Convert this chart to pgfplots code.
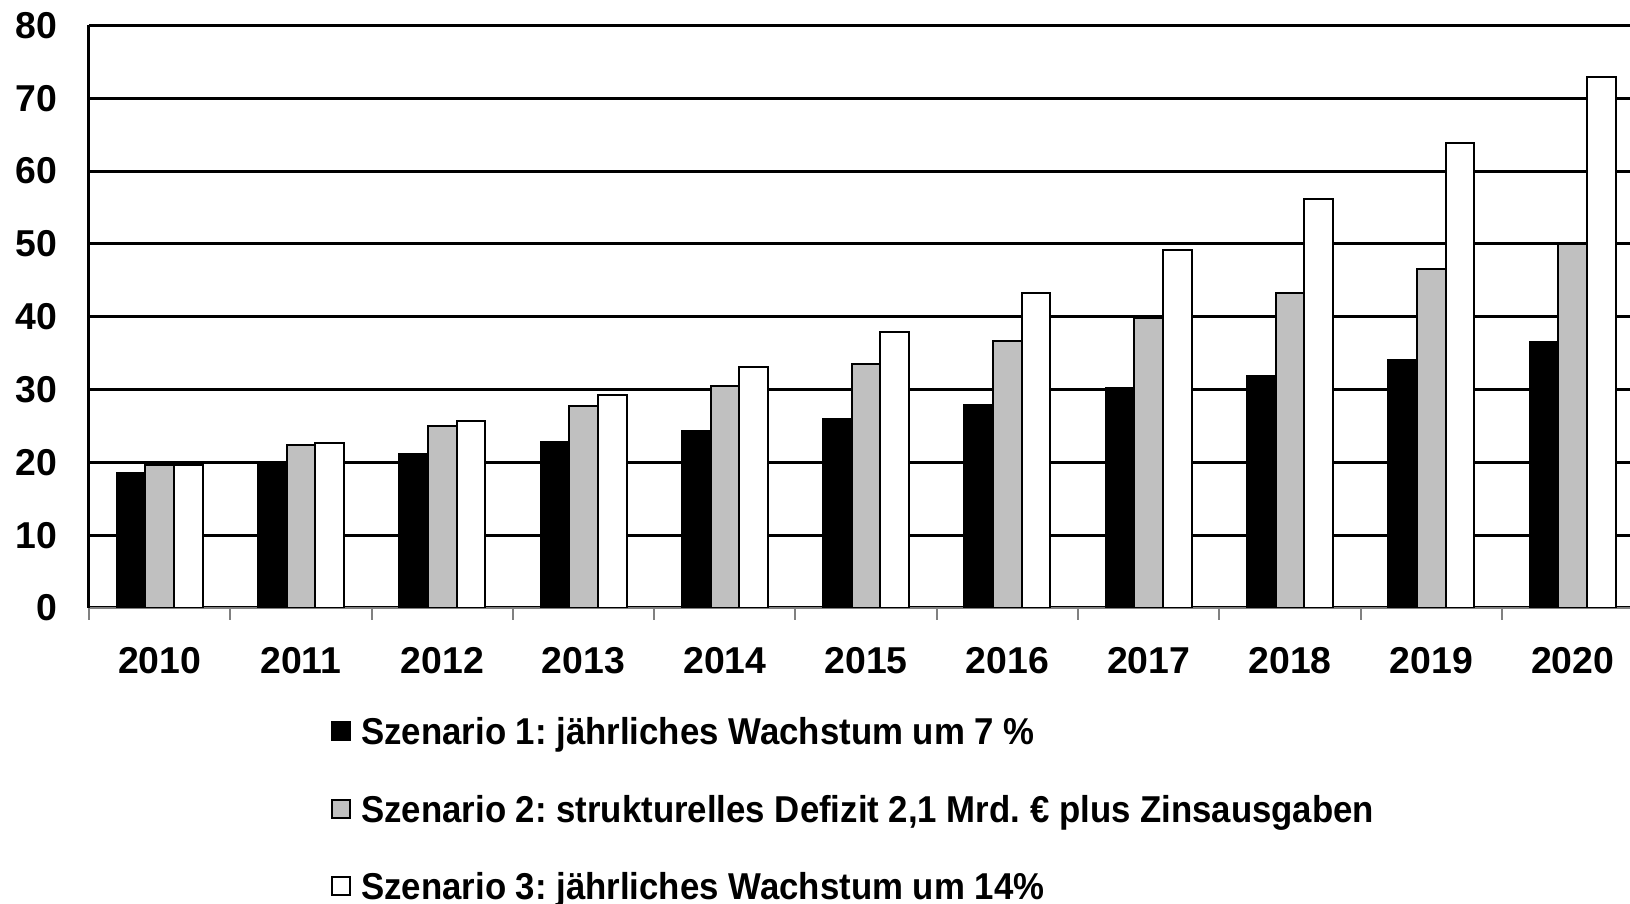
\documentclass[border=0pt]{standalone}
\usepackage{fontspec}
\setmainfont{Liberation Sans}
\newfontfamily\legfont{Liberation Sans}[FakeStretch=0.93]
\usepackage{pgfplots}
\pgfplotsset{compat=1.18}
\definecolor{barg}{RGB}{192,192,192}
\newcommand\f{\fontsize{18.7pt}{22pt}\selectfont\bfseries}
\newcommand\lf{\legfont\fontsize{18.7pt}{22pt}\selectfont\bfseries\frenchspacing}
\frenchspacing
\begin{document}
\begin{tikzpicture}
\useasboundingbox (0,0) rectangle (815pt,452pt);
\begin{axis}[
  at={(44.5pt,148pt)}, anchor=south west,
  scale only axis, width=770.5pt, height=291.25pt,
  xmin=-0.5, xmax=10.406, ymin=0, ymax=80,
  axis x line*=bottom, axis y line*=left,
  x axis line style={gray, line width=1.3pt},
  y axis line style={black, line width=1.5pt},
  ybar=0pt, bar width=0.203,
  ytick={0,10,...,80},
  xtick={0,...,10},
  xticklabels={2010,2011,2012,2013,2014,2015,2016,2017,2018,2019,2020},
  minor xtick={-0.5,0.5,1.5,2.5,3.5,4.5,5.5,6.5,7.5,8.5,9.5},
  major tick length=0pt, minor tick length=6pt, tick align=outside,
  minor x tick style={gray, line width=1pt},
  ymajorgrids, major grid style={black, line width=1.5pt},
  /pgf/number format/assume math mode=true,
  tick label style={font=\f, inner sep=0pt},
  yticklabel style={xshift=-15.5pt},
  xticklabel style={yshift=-19.5pt},
  legend cell align=left,
  legend style={at={(0.157,-0.188)}, anchor=north west, draw=none, fill=none,
    inner sep=0pt, font=\lf, row sep=25.35pt,
    nodes={inner sep=0pt, text height=13.4pt, text depth=0pt}},
  legend image code/.code={\draw[#1, line width=1pt] (-14pt,-4.5pt) rectangle (-5pt,4.5pt); \path (0pt,0pt);},
]
\addplot[draw=black, line width=1pt, fill=black, bar shift=-0.203] coordinates {
(0,18.6) (1,20.1) (2,21.15) (3,22.8) (4,24.35) (5,25.9) (6,27.9) (7,30.2) (8,31.9) (9,34.1) (10,36.5)};
\addplot[draw=black, line width=1pt, fill=barg, bar shift=0] coordinates {
(0,19.6) (1,22.4) (2,25.0) (3,27.8) (4,30.5) (5,33.5) (6,36.7) (7,39.8) (8,43.2) (9,46.6) (10,50.0)};
\addplot[draw=black, line width=1pt, fill=white, bar shift=0.203] coordinates {
(0,19.6) (1,22.6) (2,25.75) (3,29.25) (4,33.1) (5,37.9) (6,43.2) (7,49.2) (8,56.2) (9,63.9) (10,72.95)};
\legend{Szenario 1: jährliches Wachstum um 7 \%, Szenario 2: strukturelles Defizit 2{,}1 Mrd. € plus Zinsausgaben, Szenario 3: jährliches Wachstum um 14\%}
\end{axis}
\end{tikzpicture}
\end{document}
